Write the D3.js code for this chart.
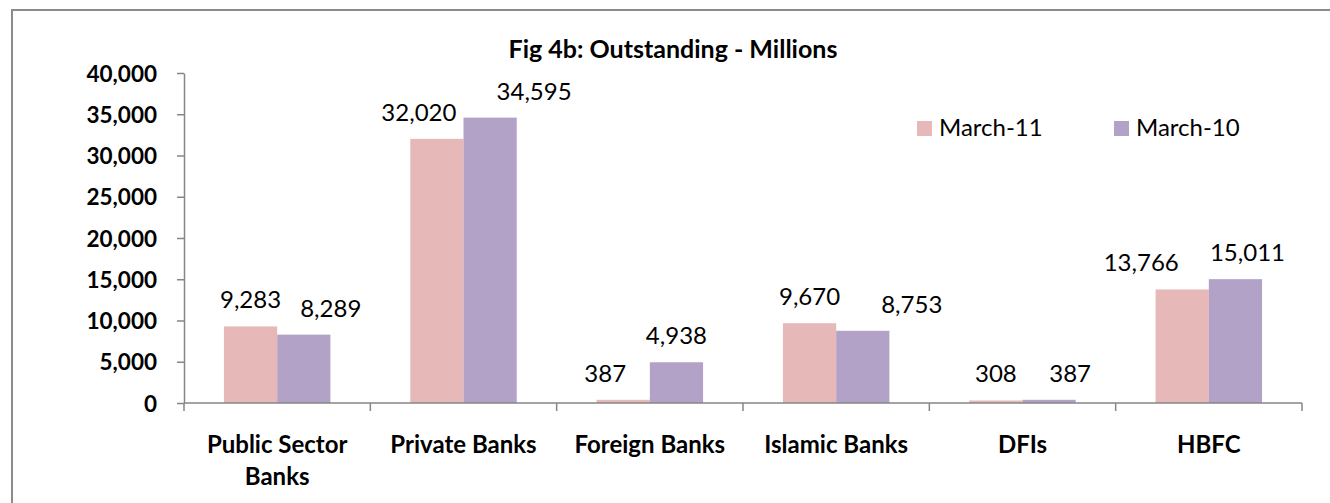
<!DOCTYPE html>
<html>
<head>
<meta charset="utf-8">
<script src="https://cdn.jsdelivr.net/npm/d3@7"></script>
<style>
  html, body { margin: 0; padding: 0; background: #fff; }
  svg { display: block; font-family: Lato, "Open Sans", sans-serif; }
</style>
</head>
<body>
<svg id="chart" width="1330" height="503"></svg>
<script>
const categories = [["Public Sector", "Banks"], ["Private Banks"], ["Foreign Banks"], ["Islamic Banks"], ["DFIs"], ["HBFC"]];
const seriesNames = ["March-11", "March-10"];
const march11 = [9283, 32020, 387, 9670, 308, 13766];
const march10 = [8289, 34595, 4938, 8753, 387, 15011];
const yTicks = [0, 5000, 10000, 15000, 20000, 25000, 30000, 35000, 40000];
const colors = ["#e6b9b8", "#b3a2c7"];
// hand-nudged label offsets (px) as in the original chart
const labelShift = [[0, -18, -18, 0, 0, -41], [27, 44, 0, 49, 21, 12]];

const W = 1330, H = 503;
const m = { top: 73, right: 28, bottom: 100, left: 184 };
const iW = W - m.left - m.right;
const iH = H - m.top - m.bottom;

const svg = d3.select("#chart");

// Outer chart frame
svg.append("rect")
  .attr("x", 12).attr("y", 10).attr("width", 1340).attr("height", 520)
  .attr("fill", "none").attr("stroke", "#8c8c8c").attr("stroke-width", 2);

// Title
svg.append("text")
  .attr("x", 673).attr("y", 58)
  .attr("text-anchor", "middle")
  .style("font-size", "25px").style("font-weight", "700").style("fill", "#000")
  .text("Fig 4b: Outstanding - Millions");

const g = svg.append("g").attr("transform", `translate(${m.left},${m.top})`);

const keys = categories.map(c => c.join(" "));
const x = d3.scaleBand().domain(keys).range([0, iW]).paddingInner(0).paddingOuter(0);
const x1 = d3.scaleBand().domain(seriesNames).range([0, x.bandwidth()]).paddingInner(0).paddingOuter(0.75);
const y = d3.scaleLinear().domain([0, 40000]).range([iH, 0]);

const rows = keys.map((k, i) => ({ key: k, i, vals: [march11[i], march10[i]] }));

// Bars
const grp = g.selectAll(".grp").data(rows).join("g")
  .attr("transform", d => `translate(${x(d.key)},0)`);
grp.selectAll("rect").data(d => d.vals.map((v, j) => ({ s: seriesNames[j], v, j, i: d.i }))).join("rect")
  .attr("x", d => x1(d.s))
  .attr("width", x1.bandwidth())
  .attr("y", d => y(d.v))
  .attr("height", d => iH - y(d.v))
  .attr("fill", d => colors[d.j]);

// Value labels
grp.selectAll("text.val").data(d => d.vals.map((v, j) => ({ s: seriesNames[j], v, j, i: d.i }))).join("text")
  .attr("class", "val")
  .attr("x", d => x1(d.s) + x1.bandwidth() / 2 + labelShift[d.j][d.i])
  .attr("y", d => y(d.v) - 18)
  .attr("text-anchor", "middle")
  .style("font-size", "24px").style("fill", "#000")
  .text(d => d3.format(",")(d.v));

// Y axis
g.append("g")
  .call(d3.axisLeft(y).tickValues(yTicks).tickSize(7).tickSizeOuter(0).tickFormat(d3.format(",")))
  .call(ax => {
    ax.select(".domain").attr("stroke", "#868686").attr("stroke-width", 1.5);
    ax.selectAll(".tick line").attr("stroke", "#868686").attr("stroke-width", 1.5);
    ax.selectAll(".tick text").attr("x", -27).attr("dy", "0.36em")
      .style("font-size", "22.5px").style("font-weight", "700").style("fill", "#000")
      .style("font-family", "Lato, sans-serif");
  });

// X axis line and category boundary ticks
const xa = g.append("g").attr("transform", `translate(0,${iH})`);
xa.append("line").attr("x1", 0).attr("x2", iW)
  .attr("stroke", "#868686").attr("stroke-width", 1.5);
xa.selectAll("line.b").data(keys.map(k => x(k)).concat([iW])).join("line")
  .attr("class", "b")
  .attr("x1", d => d).attr("x2", d => d).attr("y1", 0).attr("y2", 8)
  .attr("stroke", "#868686").attr("stroke-width", 1.5);

// Category labels
const cl = xa.selectAll("text.cat").data(categories).join("text")
  .attr("class", "cat")
  .attr("text-anchor", "middle")
  .attr("transform", (d, i) => `translate(${x(keys[i]) + x.bandwidth() / 2},50)`)
  .style("font-size", "24px").style("font-weight", "700").style("fill", "#000");
cl.selectAll("tspan").data(d => d).join("tspan")
  .attr("x", 0).attr("dy", (d, i) => i === 0 ? 0 : 32)
  .text(d => d);

// Legend
const legX = [917, 1114];
const leg = svg.selectAll(".leg").data(seriesNames).join("g")
  .attr("transform", (d, i) => `translate(${legX[i]},121)`);
leg.append("rect").attr("width", 15).attr("height", 15).attr("fill", (d, i) => colors[i]);
leg.append("text").attr("x", 22).attr("y", 15)
  .style("font-size", "24px").style("fill", "#000")
  .text(d => d);
</script>
</body>
</html>
